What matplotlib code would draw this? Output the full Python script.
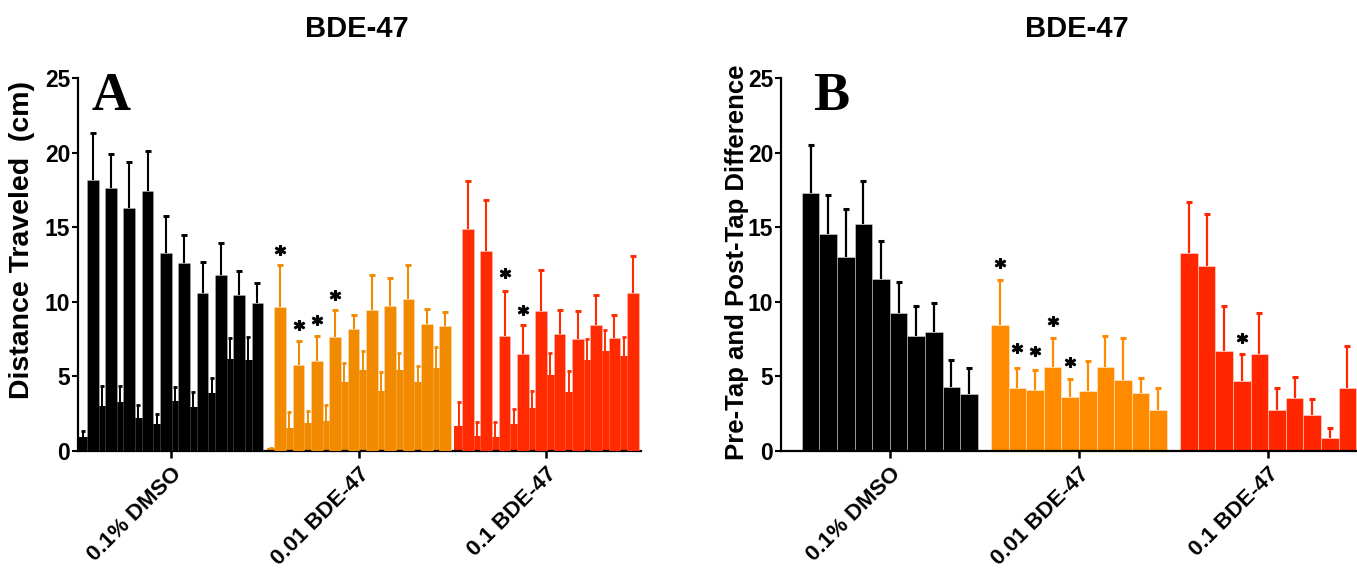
import numpy as np
import matplotlib
matplotlib.use('Agg')
import matplotlib.pyplot as plt

plt.rcParams['font.family'] = ['Liberation Sans', 'DejaVu Sans']
plt.rcParams['font.weight'] = 'bold'

groups = ['0.1% DMSO', '0.01 BDE-47', '0.1 BDE-47']
colors_a = ['#000000', '#F28A00', '#FF2A00']
colors_b = ['#000000', '#FF8A00', '#FF2600']

# panel A: interleaved low / high bars per group (mean, SEM)
a_low = [
    [0.96, 3.04, 3.28, 2.19, 1.79, 3.37, 2.93, 3.90, 6.19, 6.10],
    [0.20, 1.56, 1.85, 2.00, 4.60, 5.40, 4.00, 5.40, 4.60, 5.56],
    [1.68, 1.03, 0.96, 1.81, 2.90, 5.11, 3.97, 6.10, 6.70, 6.39],
]
a_low_err = [
    [0.40, 1.34, 1.08, 0.87, 0.69, 0.92, 1.00, 0.97, 1.36, 1.54],
    [0.00, 1.08, 0.85, 1.06, 1.30, 1.30, 1.30, 1.20, 1.10, 1.44],
    [1.60, 0.89, 0.96, 0.99, 1.14, 1.49, 1.39, 1.39, 1.39, 1.25],
]
a_high = [
    [18.16, 17.60, 16.30, 17.40, 13.25, 12.62, 10.60, 11.80, 10.46, 9.92],
    [9.67, 5.76, 6.00, 7.66, 8.18, 9.43, 9.72, 10.17, 8.50, 8.36],
    [14.90, 13.40, 7.70, 6.50, 9.36, 7.84, 7.53, 8.47, 7.57, 10.60],
]
a_high_err = [
    [3.14, 2.30, 3.10, 2.70, 2.50, 1.88, 2.05, 2.14, 1.62, 1.34],
    [2.83, 1.64, 1.70, 1.79, 0.92, 2.37, 1.88, 2.30, 1.00, 0.94],
    [3.20, 3.40, 3.04, 1.92, 2.77, 1.61, 1.85, 1.97, 1.57, 2.50],
]
# significance stars: (group, high-bar index, y)
a_stars = [(1, 0, 13.47), (1, 1, 8.44), (1, 2, 8.78), (1, 3, 10.46),
           (2, 2, 11.9), (2, 3, 9.45)]

# panel B
b_mean = [
    [17.27, 14.52, 12.98, 15.20, 11.50, 9.25, 7.69, 7.95, 4.27, 3.84],
    [8.47, 4.19, 4.12, 5.66, 3.62, 4.00, 5.63, 4.78, 3.89, 2.77],
    [13.27, 12.38, 6.73, 4.68, 6.48, 2.75, 3.57, 2.39, 0.87, 4.22],
]
b_err = [
    [3.23, 2.61, 3.22, 2.90, 2.55, 2.05, 2.03, 1.97, 1.81, 1.70],
    [2.97, 1.35, 1.31, 1.91, 1.21, 2.03, 2.08, 2.79, 1.02, 1.45],
    [3.40, 3.52, 2.97, 1.80, 2.77, 1.45, 1.39, 1.07, 0.65, 2.80],
]
b_stars = [(1, 0, 12.62), (1, 1, 6.92), (1, 2, 6.72), (1, 3, 8.73),
           (1, 4, 5.98), (2, 3, 7.55)]

yticks = [0, 5, 10, 15, 20, 25]


def style_axis(ax):
    for s in ['top', 'right']:
        ax.spines[s].set_visible(False)
    for s in ['left', 'bottom']:
        ax.spines[s].set_linewidth(1.6)
    ax.set_ylim(0, 25)
    ax.set_yticks(yticks)
    ax.tick_params(axis='y', length=4.5, width=1.5, pad=1, labelsize=16.5)
    ax.tick_params(axis='x', length=5, width=1.8, pad=4, labelsize=16)


def up_err(ax, x, y, e, c, lw, cap, z):
    # one-sided error bar: stem up from the bar top, cap only at the top
    y = np.asarray(y)
    top = y + np.asarray(e)
    ax.vlines(x, y, top, colors=c, linewidth=lw, zorder=z)
    ax.plot(x, top, linestyle='none', marker='_', markersize=cap,
            markeredgewidth=lw + 0.6, color=c, zorder=z)


fig = plt.figure(figsize=(13.57, 5.7), dpi=100)

# ---- panel A
axA = fig.add_axes([78 / 1357, 119 / 570, 563 / 1357, 373 / 570])
G = 20.5
for g in range(3):
    c = colors_a[g]
    xl = g * G + 2 * np.arange(10)
    xh = xl + 1
    axA.bar(xl, a_low[g], width=1.0, color=c, linewidth=0, zorder=2)
    up_err(axA, xl, a_low[g], a_low_err[g], c, 1.4, 3.5, 2)
    axA.bar(xh, a_high[g], width=1.28, color=c, edgecolor=(1, 1, 1, 0.35), linewidth=0.4, zorder=3)
    up_err(axA, xh, a_high[g], a_high_err[g], c, 1.5, 4, 3)
for g, i, y in a_stars:
    axA.scatter(g * G + 2 * i + 1, y, marker='$*$', s=52, color='black', zorder=4)
axA.set_xlim(-0.6, 60.9)
axA.set_xticks([g * G + 9.55 for g in range(3)])
axA.set_xticklabels(groups, rotation=45, ha='right', va='top', rotation_mode='anchor')
style_axis(axA)

# ---- panel B
axB = fig.add_axes([781 / 1357, 119 / 570, 576 / 1357, 373 / 570])
GB = 10.75
for g in range(3):
    c = colors_b[g]
    x = g * GB + np.arange(10) + 0.5
    axB.bar(x, b_mean[g], width=1.0, color=c, edgecolor=(1, 1, 1, 0.45), linewidth=0.6, zorder=2)
    up_err(axB, x, b_mean[g], b_err[g], c, 1.6, 5, 3)
for g, i, y in b_stars:
    axB.scatter(g * GB + i + 0.5, y, marker='$*$', s=52, color='black', zorder=4)
axB.set_xlim(-1.18, 31.55)
axB.set_xticks([g * GB + 5.0 for g in range(3)])
axB.set_xticklabels(groups, rotation=45, ha='right', va='top', rotation_mode='anchor')
style_axis(axB)

for lab in axA.get_xticklabels() + axB.get_xticklabels():
    lab.set_fontweight('bold')
for lab in axA.get_yticklabels() + axB.get_yticklabels():
    lab.set_fontweight('bold')

# titles, axis labels, panel letters
fig.text(357 / 1357, 1 - 29 / 570, 'BDE-47', ha='center', va='center', fontsize=21, fontweight='bold')
fig.text(1077 / 1357, 1 - 29 / 570, 'BDE-47', ha='center', va='center', fontsize=21, fontweight='bold')
fig.text(22 / 1357, 1 - 240 / 570, 'Distance Traveled  (cm)', rotation=90, ha='center', va='center',
         fontsize=20.5, fontweight='bold')
fig.text(737 / 1357, 1 - 262 / 570, 'Pre-Tap and Post-Tap Difference', rotation=90, ha='center',
         va='center', fontsize=18.5, fontweight='bold')
fig.text(92 / 1357, 1 - 110 / 570, 'A', ha='left', va='baseline', fontsize=39, fontweight='bold',
         family=['Liberation Serif', 'DejaVu Serif'])
fig.text(813 / 1357, 1 - 110 / 570, 'B', ha='left', va='baseline', fontsize=39, fontweight='bold',
         family=['Liberation Serif', 'DejaVu Serif'])

fig.savefig('out.png', dpi=100)
